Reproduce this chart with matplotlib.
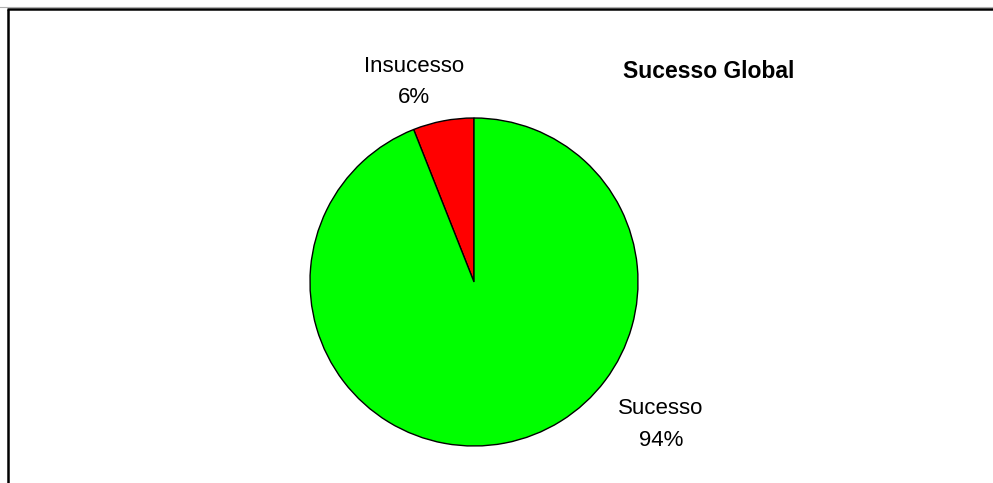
import matplotlib.pyplot as plt

plt.rcParams['font.family'] = ['Liberation Sans', 'DejaVu Sans']

labels = ['Insucesso', 'Sucesso']
values = [6, 94]
colors = ['#ff0000', '#00ff00']

W, H = 993, 483
fig = plt.figure(figsize=(W / 100, H / 100), dpi=100)
ax = fig.add_axes([0, 0, 1, 1])

# pie, drawn in pixel-like data coords
cx, cy, r = 474, H - 282, 164
ax.pie(values, colors=colors, startangle=90, counterclock=True,
       center=(cx, cy), radius=r, frame=True,
       wedgeprops=dict(edgecolor='black', linewidth=1.0))
ax.set_xlim(0, W)
ax.set_ylim(0, H)
ax.set_aspect('equal')
ax.axis('off')

# slice labels (name line, percent line; baselines in px from top)
pct = [f'{v}%' for v in values]
lab_pos = [(414, 72.5, 103), (661, 414.5, 445.5)]
for name, p, (x, y1, y2) in zip(labels, pct, lab_pos):
    ax.text(x, H - y1, name, ha='center', va='baseline', fontsize=16)
    ax.text(x, H - y2, p, ha='center', va='baseline', fontsize=16)

# title
ax.text(709, H - 78.5, 'Sucesso Global', ha='center', va='baseline',
        fontsize=16.5, fontweight='bold')

# chart frame: top and left only
ax.plot([7, W], [H - 8.5, H - 8.5], color='black', lw=1.8, solid_capstyle='butt')
ax.plot([7.5, 7.5], [0, H - 8.5], color='black', lw=1.8, solid_capstyle='butt')
ax.plot([0, W], [H - 6.5, H - 6.5], color='#b0b0b0', lw=0.8)

fig.savefig('out.png', dpi=100)
